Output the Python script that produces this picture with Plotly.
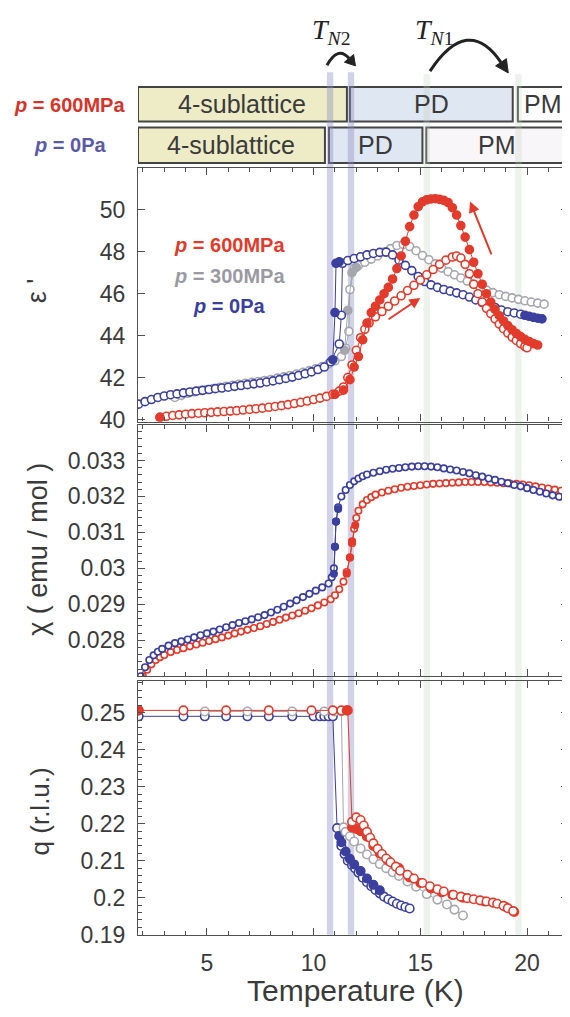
import plotly.graph_objects as go

# the page body keeps its default 8px margin, so the figure is placed 8px in
OFF = 8
FW, FH = 562, 1001

RED = "#e23b2c"
BLUE = "#3b3f9e"
GREY = "#a6a6ae"
AXIS = "#505050"
TEXT = "#3a3a3a"
FONT = "Liberation Sans, Arial, Helvetica, sans-serif"

XRANGE = [1.77, 21.92]

# ---------------- dielectric constant eps' ----------------
eps_blue_T = [1.8, 2.1, 2.4, 2.7, 3.0, 3.3, 3.6, 3.9, 4.2, 4.5, 4.8, 5.1, 5.4, 5.7,
              6.0, 6.3, 6.6, 6.9, 7.2, 7.5, 7.8, 8.1, 8.4, 8.7, 9.0, 9.3, 9.6, 9.9,
              10.2, 10.5, 10.8, 11.2, 11.3, 11.35, 11.6, 11.9, 12.2, 12.5, 12.8, 13.1,
              13.4, 13.7, 14.0, 14.3, 14.6, 14.9, 15.2, 15.5, 15.8, 16.1, 16.4, 16.7,
              17.0, 17.3, 17.6, 17.9, 18.2, 18.5, 18.8, 19.1, 19.4, 19.7]
eps_blue = [40.73, 40.85, 40.95, 41.05, 41.12, 41.18, 41.22, 41.27, 41.31, 41.35, 41.39,
            41.43, 41.47, 41.5, 41.54, 41.58, 41.62, 41.66, 41.7, 41.74, 41.79, 41.84,
            41.9, 41.96, 42.02, 42.1, 42.18, 42.27, 42.38, 42.5, 42.75, 43.6, 44.97,
            47.45, 47.58, 47.68, 47.76, 47.85, 47.92, 47.97, 47.98, 47.85, 47.6, 47.35,
            47.1, 46.82, 46.58, 46.42, 46.3, 46.2, 46.12, 46.04, 45.95, 45.84, 45.7,
            45.58, 45.46, 45.34, 45.22, 45.14, 45.08, 45.02]
eps_blue_fill_T = [10.9, 11.0, 11.05, 11.2]
eps_blue_fill = [42.85, 45.1, 47.45, 47.52]
eps_blue_tail_T = [19.9, 20.1, 20.3, 20.5, 20.7]
eps_blue_tail = [44.97, 44.92, 44.87, 44.83, 44.8]

eps_grey_T = [3.5, 3.8, 4.1, 4.4, 4.7, 5.0, 5.3, 5.6, 5.9, 6.2, 6.5, 6.8, 7.1, 7.4, 7.7,
              8.0, 8.3, 8.6, 8.9, 9.2, 9.5, 9.8, 10.1, 10.4, 10.7, 11.0, 11.3, 11.5,
              11.65, 11.7, 11.9, 12.1, 12.4, 12.7, 13.0, 13.3, 13.6, 13.9, 14.2, 14.5,
              14.8, 15.1, 15.4, 15.7, 16.0, 16.3, 16.6, 16.9, 17.2, 17.5, 17.8, 18.1,
              18.4, 18.7, 19.0, 19.3, 19.6, 19.9, 20.2, 20.5, 20.8]
eps_grey = [41.05, 41.15, 41.25, 41.32, 41.38, 41.43, 41.48, 41.53, 41.58, 41.63, 41.68,
            41.72, 41.77, 41.81, 41.86, 41.91, 41.97, 42.03, 42.1, 42.17, 42.25, 42.33,
            42.42, 42.52, 42.65, 42.8, 43.0, 43.4, 44.2, 46.2, 47.2, 47.35, 47.5, 47.65,
            47.8, 47.98, 48.15, 48.3, 48.35, 48.25, 48.05, 47.82, 47.62, 47.42, 47.22,
            47.05, 46.9, 46.75, 46.6, 46.45, 46.3, 46.17, 46.05, 45.95, 45.87, 45.8,
            45.73, 45.66, 45.6, 45.55, 45.5]
eps_grey_fill_T = [11.45, 11.6, 11.8, 12.0]
eps_grey_fill = [43.3, 45.2, 47.0, 47.25]

eps_red_T = [2.8, 3.1, 3.4, 3.7, 4.0, 4.3, 4.6, 4.9, 5.2, 5.5, 5.8, 6.1, 6.4, 6.7, 7.0,
             7.3, 7.6, 7.9, 8.2, 8.5, 8.8, 9.1, 9.4, 9.7, 10.0, 10.3, 10.6, 10.9, 11.2,
             11.4, 11.6, 11.8, 12.0, 12.2, 12.4, 12.6, 12.9, 13.2, 13.5, 13.8, 14.1,
             14.4, 14.7, 15.0, 15.3, 15.6, 15.9, 16.2, 16.5, 16.7, 16.9, 17.1, 17.3,
             17.5, 17.7, 17.9, 18.1, 18.3, 18.5, 18.7, 18.9, 19.1, 19.3, 19.5, 19.7,
             19.9, 20.0]
eps_red = [40.1, 40.15, 40.19, 40.22, 40.25, 40.28, 40.3, 40.32, 40.34, 40.36, 40.38,
           40.4, 40.42, 40.45, 40.48, 40.51, 40.54, 40.58, 40.62, 40.66, 40.71, 40.76,
           40.82, 40.88, 40.95, 41.02, 41.1, 41.2, 41.35, 41.55, 42.0, 42.6, 43.3, 43.9,
           44.3, 44.6, 44.9, 45.15, 45.4, 45.65, 45.9, 46.15, 46.4, 46.65, 46.9, 47.15,
           47.4, 47.6, 47.75, 47.8, 47.7, 47.4, 46.95, 46.45, 46.0, 45.6, 45.3, 45.05,
           44.8, 44.55, 44.33, 44.12, 43.93, 43.77, 43.62, 43.48, 43.42]
eps_red_fill_T = [11.0, 11.4, 11.7, 11.9, 12.1, 12.3, 12.5, 12.7, 12.9, 13.1, 13.3, 13.5,
                  13.7, 13.9, 14.1, 14.3, 14.5, 14.7, 14.9, 15.1, 15.3, 15.5, 15.7, 15.9,
                  16.1, 16.3, 16.5, 16.7, 16.9, 17.1, 17.3, 17.5, 17.7, 17.9, 18.1, 18.3,
                  18.5, 18.7, 18.9, 19.1, 19.3, 19.5, 19.7, 19.9, 20.1, 20.3, 20.5]
eps_red_fill = [41.2, 41.4, 41.9, 42.5, 43.0, 43.8, 44.6, 45.1, 45.4, 45.7, 46.0, 46.3,
                46.7, 47.2, 47.8, 48.5, 49.2, 49.75, 50.15, 50.38, 50.48, 50.52, 50.53,
                50.5, 50.45, 50.35, 50.1, 49.75, 49.25, 48.7, 48.1, 47.5, 46.95, 46.45,
                46.0, 45.6, 45.25, 44.95, 44.7, 44.48, 44.28, 44.1, 43.95, 43.82, 43.72,
                43.62, 43.55]
eps_red_start_T = [2.8]
eps_red_start = [40.1]

# ---------------- susceptibility chi ----------------
chi_blue_T = [1.9, 2.1, 2.3, 2.5, 2.7, 2.9, 3.2, 3.5, 3.8, 4.1, 4.4, 4.7, 5.0, 5.3, 5.6,
              5.9, 6.2, 6.5, 6.8, 7.1, 7.4, 7.7, 8.0, 8.3, 8.6, 8.9, 9.2, 9.5, 9.8, 10.1,
              10.4, 10.7, 10.85, 10.95, 11.0, 11.05, 11.15, 11.3, 11.5, 11.7, 11.9, 12.1,
              12.3, 12.5, 12.8, 13.1, 13.4, 13.7, 14.0, 14.3, 14.6, 14.9, 15.2, 15.5,
              15.8, 16.1, 16.4, 16.7, 17.0, 17.3, 17.6, 17.9, 18.2, 18.5, 18.8, 19.1,
              19.4, 19.7, 20.0, 20.3, 20.6, 20.9, 21.2, 21.5, 21.8]
chi_blue = [0.02700, 0.02725, 0.02745, 0.02758, 0.02768, 0.02776, 0.02785, 0.02792,
            0.02797, 0.02802, 0.02808, 0.02814, 0.02819, 0.02824, 0.02830, 0.02836,
            0.02842, 0.02848, 0.02853, 0.02858, 0.02864, 0.02870, 0.02877, 0.02885,
            0.02893, 0.02902, 0.02911, 0.02920, 0.02929, 0.02938, 0.02947, 0.02958,
            0.02975, 0.03000, 0.03060, 0.03130, 0.03170, 0.03200, 0.03218, 0.03232,
            0.03242, 0.03250, 0.03256, 0.03261, 0.03266, 0.03270, 0.03274, 0.03277,
            0.03279, 0.03281, 0.03283, 0.03284, 0.03284, 0.03283, 0.03281, 0.03278,
            0.03275, 0.03272, 0.03268, 0.03264, 0.03259, 0.03255, 0.03250, 0.03246,
            0.03241, 0.03237, 0.03232, 0.03228, 0.03223, 0.03218, 0.03213, 0.03208,
            0.03203, 0.03199, 0.03195]
chi_blue_fill_T = [10.95, 11.0, 11.05, 11.15]
chi_blue_fill = [0.02985, 0.03060, 0.03130, 0.03165]

chi_red_T = [2.0, 2.2, 2.4, 2.6, 2.8, 3.0, 3.3, 3.6, 3.9, 4.2, 4.5, 4.8, 5.1, 5.4, 5.7,
             6.0, 6.3, 6.6, 6.9, 7.2, 7.5, 7.8, 8.1, 8.4, 8.7, 9.0, 9.3, 9.6, 9.9, 10.2,
             10.5, 10.8, 11.0, 11.2, 11.4, 11.55, 11.7, 11.8, 11.9, 12.0, 12.1, 12.3,
             12.5, 12.7, 12.9, 13.2, 13.5, 13.8, 14.1, 14.4, 14.7, 15.0, 15.3, 15.6,
             15.9, 16.2, 16.5, 16.8, 17.1, 17.4, 17.7, 18.0, 18.3, 18.6, 18.9, 19.2,
             19.5, 19.8, 20.1, 20.4, 20.7, 21.0, 21.3, 21.6, 21.9]
chi_red = [0.02700, 0.02718, 0.02733, 0.02745, 0.02753, 0.02759, 0.02767, 0.02773,
           0.02778, 0.02783, 0.02788, 0.02793, 0.02798, 0.02803, 0.02808, 0.02813,
           0.02819, 0.02824, 0.02829, 0.02834, 0.02839, 0.02845, 0.02851, 0.02857,
           0.02863, 0.02869, 0.02875, 0.02882, 0.02889, 0.02897, 0.02905, 0.02914,
           0.02925, 0.02942, 0.02963, 0.02990, 0.03030, 0.03070, 0.03110, 0.03140,
           0.03160, 0.03178, 0.03190, 0.03198, 0.03205, 0.03211, 0.03216, 0.03220,
           0.03224, 0.03227, 0.03229, 0.03231, 0.03233, 0.03235, 0.03236, 0.03237,
           0.03238, 0.03239, 0.03240, 0.03240, 0.03240, 0.03240, 0.03239, 0.03238,
           0.03237, 0.03236, 0.03235, 0.03233, 0.03231, 0.03228, 0.03225, 0.03222,
           0.03219, 0.03216, 0.03213]
chi_red_fill_T = [11.55, 11.7, 11.8, 11.95]
chi_red_fill = [0.02985, 0.03030, 0.03075, 0.03120]

# ---------------- propagation vector q ----------------
q_blue_T = [1.8, 3.9, 4.9, 5.9, 6.9, 7.9, 9.0, 10.0, 10.3, 10.5, 10.7, 10.9, 11.1,
            11.3, 11.45, 11.6, 11.8, 11.95, 12.1, 12.3, 12.5, 12.7, 12.9, 13.1, 13.3,
            13.5, 13.7, 13.9, 14.1, 14.3, 14.5]
q_blue = [0.2490, 0.2490, 0.2490, 0.2490, 0.2490, 0.2490, 0.2490, 0.2490, 0.2490,
          0.2490, 0.2490, 0.2490, 0.2188, 0.2140, 0.2118, 0.2100, 0.2088, 0.2079,
          0.2068, 0.2054, 0.2042, 0.2031, 0.2021, 0.2012, 0.2003, 0.1996, 0.1990,
          0.1984, 0.1979, 0.1975, 0.1971]
q_blue_fill_T = [11.2, 11.3, 11.5, 11.7, 11.9, 12.2, 12.5, 12.8, 13.1]
q_blue_fill = [0.2167, 0.2150, 0.2125, 0.2105, 0.2090, 0.2072, 0.2052, 0.2035, 0.2020]

q_grey_T = [4.9, 6.9, 9.0, 10.5, 11.0, 11.3, 11.4, 11.5, 11.7, 11.9, 12.2, 12.5, 12.8,
            13.1, 13.4, 13.7, 14.0, 14.4, 14.8, 15.3, 15.8, 16.25, 16.6, 17.0]
q_grey = [0.2503, 0.2503, 0.2503, 0.2503, 0.2503, 0.2503, 0.2190, 0.2178, 0.2166,
          0.2152, 0.2133, 0.2117, 0.2104, 0.2091, 0.2080, 0.2069, 0.2059, 0.2044,
          0.2030, 0.2010, 0.1995, 0.1982, 0.1968, 0.1952]

q_red_T = [1.8, 3.9, 5.9, 7.9, 9.9, 10.9, 11.3, 11.6, 11.8, 12.0, 12.2, 12.35, 12.5,
           12.65, 12.8, 13.0, 13.2, 13.4, 13.6, 13.85, 14.05, 14.4, 14.7, 15.1, 15.45,
           15.8, 16.1, 16.55, 16.9, 17.2, 17.5, 17.8, 18.1, 18.4, 18.6, 18.9, 19.1, 19.35]
q_red = [0.2506, 0.2506, 0.2506, 0.2506, 0.2506, 0.2506, 0.2506, 0.2506, 0.2205,
         0.2217, 0.2210, 0.2195, 0.2178, 0.2162, 0.2147, 0.2132, 0.2118, 0.2106,
         0.2096, 0.2084, 0.2073, 0.2062, 0.2052, 0.2040, 0.2031, 0.2023, 0.2017,
         0.2008, 0.2003, 0.1999, 0.1996, 0.1993, 0.1990, 0.1987, 0.1984, 0.1978,
         0.1972, 0.1964]
q_red_fill_T = [1.8, 11.55, 11.8, 12.0, 12.2, 12.5, 12.8, 13.1, 13.5, 14.0, 14.5, 15.0,
                15.5, 16.0, 16.5, 17.0, 18.0, 19.0, 19.4]
q_red_fill = [0.2506, 0.2506, 0.2190, 0.2186, 0.2180, 0.2165, 0.2140, 0.2120, 0.2100,
              0.2080, 0.2055, 0.2040, 0.2025, 0.2015, 0.2008, 0.2000, 0.1990, 0.1975,
              0.1962]

# phase bars (boundaries in K) and transition bands
phase_600 = [("4-sublattice", 1.77, 11.56, "#edecc6"), ("PD", 11.70, 19.33, "#dfe7f2"),
             ("PM", 19.57, 21.92, "#ffffff")]
phase_0 = [("4-sublattice", 1.77, 10.53, "#edecc6"), ("PD", 10.72, 15.10, "#dfe7f2"),
           ("PM", 15.28, 21.92, "#f9f6f9")]
tn2_bands = [10.77, 11.75]
tn1_bands = [15.30, 19.60]


# window pixel -> paper fraction
def px(x):
    return (x - OFF) / FW


def py(y):
    return 1 - (y - OFF) / FH


fig = go.Figure()


def add(x, y, n, color, filled, size=8, lw=1.0, mode="lines+markers"):
    fig.add_trace(go.Scatter(
        x=x, y=y, mode=mode, xaxis="x" if n == 1 else f"x{n}",
        yaxis="y" if n == 1 else f"y{n}", showlegend=False,
        line=dict(color=color, width=lw),
        marker=dict(symbol="circle", size=size,
                    color=color if filled else "white",
                    line=dict(color=color, width=1.6)),
    ))


# panel 1
add(eps_grey_T, eps_grey, 1, GREY, False)
add(eps_grey_fill_T, eps_grey_fill, 1, GREY, True)
add(eps_blue_T, eps_blue, 1, BLUE, False)
add(eps_blue_fill_T, eps_blue_fill, 1, BLUE, True)
add(eps_blue_tail_T, eps_blue_tail, 1, BLUE, True)
add(eps_red_T, eps_red, 1, RED, False)
add(eps_red_fill_T, eps_red_fill, 1, RED, True)
add(eps_red_start_T, eps_red_start, 1, RED, True, mode="markers")

# panel 2
add(chi_red_T, chi_red, 2, RED, False, size=6.5)
add(chi_red_fill_T, chi_red_fill, 2, RED, True, size=6.5)
add(chi_blue_T, chi_blue, 2, BLUE, False, size=6.5)
add(chi_blue_fill_T, chi_blue_fill, 2, BLUE, True, size=6.5)

# panel 3
add(q_blue_T, q_blue, 3, BLUE, False, size=8.5)
add(q_blue_fill_T, q_blue_fill, 3, BLUE, True, size=8.5, mode="markers")
add(q_grey_T, q_grey, 3, GREY, False, size=8.5)
add(q_red_fill_T[2:], q_red_fill[2:], 3, RED, True, size=8.5)
add(q_red_T, q_red, 3, RED, False, size=8.5)
add(q_red_fill_T[:2], q_red_fill[:2], 3, RED, True, size=8.5, mode="markers")

shapes = []
annotations = []


def note(text, x, y, size, color=TEXT, family=FONT, xref="paper", yref="paper", **kw):
    annotations.append(dict(xref=xref, yref=yref, x=x, y=y, text=text, showarrow=False,
                            xanchor="center", yanchor="middle",
                            font=dict(family=family, size=size, color=color), **kw))


# phase boxes
for row, (y0, y1) in ((phase_600, (88, 123)), (phase_0, (129, 165))):
    for name, t0, t1, fill in row:
        shapes.append(dict(type="rect", xref="x", yref="paper", x0=t0, x1=t1,
                           y0=py(y1), y1=py(y0), fillcolor=fill,
                           line=dict(color="#444444", width=2), layer="below"))
        note(name, (t0 + t1) / 2, py((y0 + y1) / 2), 25, xref="x")

# transition bands
for t in tn2_bands:
    shapes.append(dict(type="rect", xref="x", yref="paper", x0=t - 0.15, x1=t + 0.15,
                       y0=py(947), y1=py(73), fillcolor="rgba(140,140,195,0.40)",
                       line=dict(width=0), layer="below"))
for t in tn1_bands:
    shapes.append(dict(type="rect", xref="x", yref="paper", x0=t - 0.15, x1=t + 0.15,
                       y0=py(947), y1=py(75), fillcolor="rgba(190,210,190,0.28)",
                       line=dict(width=0), layer="below"))


# curved black arrows above the bars
def arc_arrow(p0, c, p1, head_len, head_w, width):
    dx, dy = p1[0] - c[0], p1[1] - c[1]
    n = (dx * dx + dy * dy) ** 0.5
    dx, dy = dx / n, dy / n
    tip = (p1[0] + dx * head_len, p1[1] + dy * head_len)
    b1 = (p1[0] - dy * head_w, p1[1] + dx * head_w)
    b2 = (p1[0] + dy * head_w, p1[1] - dx * head_w)
    shapes.append(dict(type="path", xref="paper", yref="paper",
                       path=f"M {px(p0[0])},{py(p0[1])} Q {px(c[0])},{py(c[1])} "
                            f"{px(p1[0])},{py(p1[1])}",
                       line=dict(color="#222222", width=width)))
    shapes.append(dict(type="path", xref="paper", yref="paper",
                       path=f"M {px(tip[0])},{py(tip[1])} L {px(b1[0])},{py(b1[1])} "
                            f"L {px(b2[0])},{py(b2[1])} Z",
                       fillcolor="#222222", line=dict(color="#222222", width=1)))


arc_arrow((327, 66), (338, 46), (349, 59), 10, 6, 3)
arc_arrow((430, 72), (468, 14), (501, 63), 13, 6.5, 3)

SERIF = "Liberation Serif, DejaVu Serif, serif"
note("<i>T</i><sub><i>N</i>2</sub>", px(331), py(32), 28, "#222222", SERIF)
note("<i>T</i><sub><i>N</i>1</sub>", px(434), py(32), 28, "#222222", SERIF)

# pressure labels beside bars
note("<b><i>p</i> = 600MPa</b>", px(69), py(106), 20, "#d8332a")
note("<b><i>p</i> = 0Pa</b>", px(70), py(147), 20, "#5b5aa8")

# legend text inside panel 1
for txt, col, yy in (("<b><i>p</i> = 600MPa</b>", RED, 48.3),
                     ("<b><i>p</i> = 300MPa</b>", "#9a9aa2", 46.85),
                     ("<b><i>p</i> = 0Pa</b>", BLUE, 45.4)):
    note(txt, 6.05, yy, 20, col, xref="x", yref="y")

# red arrows in panel 1
for (hx, hy, tx, ty) in ((17.33, 50.4, 18.36, 47.8), (15.0, 45.8, 13.44, 44.73)):
    annotations.append(dict(xref="x", yref="y", axref="x", ayref="y", x=hx, y=hy,
                            ax=tx, ay=ty, text="", showarrow=True, arrowhead=2,
                            arrowsize=1.1, arrowwidth=2, arrowcolor=RED))

# axis titles
note("ε '", px(37), py(295), 27, textangle=-90)
note("χ ( emu / mol )", px(38), py(557), 27, textangle=-90)
note("q (r.l.u.)", px(40), py(822), 26, textangle=-90)
note("Temperature (K)", px(355), py(1003), 30)

xdom = [px(138), px(568)]
doms = {1: [py(427), py(170)], 2: [py(685), py(430)], 3: [py(947), py(690)]}

common = dict(showline=True, linecolor=AXIS, linewidth=1.3, mirror="allticks",
              ticks="inside", tickcolor=AXIS, showgrid=False, zeroline=False,
              tickfont=dict(family=FONT, size=23, color=TEXT), ticklabelstandoff=7)

layout = dict(width=FW, height=FH, autosize=False, margin=dict(l=0, r=0, t=0, b=0),
              paper_bgcolor="white", plot_bgcolor="white",
              shapes=shapes, annotations=annotations, showlegend=False)

for n in (1, 2, 3):
    xa = dict(common, domain=xdom, range=XRANGE, anchor="y" if n == 1 else f"y{n}",
              tick0=0, dtick=5, ticklen=7, showticklabels=(n == 3),
              minor=dict(dtick=1, tick0=0, ticklen=4, ticks="inside", tickcolor=AXIS))
    layout["xaxis" if n == 1 else f"xaxis{n}"] = xa

layout["yaxis"] = dict(common, domain=doms[1], anchor="x", range=[39.9, 52.0],
                       tickvals=[40, 42, 44, 46, 48, 50], ticklen=7)
layout["yaxis2"] = dict(common, domain=doms[2], anchor="x2", range=[0.0270, 0.0340],
                        tickvals=[0.028, 0.029, 0.030, 0.031, 0.032, 0.033],
                        ticktext=["0.028", "0.029", "0.03", "0.031", "0.032", "0.033"],
                        ticklen=7,
                        minor=dict(dtick=0.0002, tick0=0.027, ticklen=4, ticks="inside",
                                   tickcolor=AXIS))
layout["yaxis3"] = dict(common, domain=doms[3], anchor="x3", range=[0.19, 0.2585],
                        tickvals=[0.19, 0.20, 0.21, 0.22, 0.23, 0.24, 0.25],
                        ticktext=["0.19", "0.2", "0.21", "0.22", "0.23", "0.24", "0.25"],
                        ticklen=7,
                        minor=dict(dtick=0.002, tick0=0.19, ticklen=4, ticks="inside",
                                   tickcolor=AXIS))

fig.update_layout(layout)
fig.write_html("out.html")
